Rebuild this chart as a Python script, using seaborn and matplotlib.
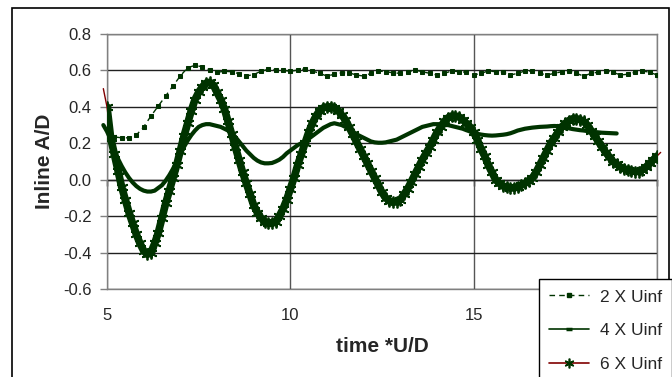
import numpy as np
import pandas as pd
import matplotlib
matplotlib.use("Agg")
import matplotlib.pyplot as plt
import seaborn as sns
from matplotlib.lines import Line2D
from matplotlib.patches import Rectangle

# ---------------- data ----------------
series_labels = ["2 X Uinf", "4 X Uinf", "6 X Uinf"]

# 2 X Uinf : samples every 0.2 from t = 5.0
t2_start, t2_step = 5.0, 0.2
a2 = [0.25, 0.235, 0.23, 0.23, 0.245, 0.29, 0.35, 0.405, 0.46, 0.515,
      0.57, 0.615, 0.628, 0.62, 0.603, 0.59, 0.595, 0.593, 0.582, 0.57,
      0.577, 0.596, 0.606, 0.604, 0.601, 0.595, 0.602, 0.608, 0.597, 0.584,
      0.569, 0.579, 0.587, 0.587, 0.575, 0.569, 0.584, 0.597, 0.593, 0.587,
      0.584, 0.59, 0.602, 0.593, 0.584, 0.575, 0.584, 0.597, 0.593, 0.59,
      0.575, 0.584, 0.597, 0.593, 0.59, 0.575, 0.584, 0.597, 0.597, 0.584,
      0.575, 0.584, 0.593, 0.597, 0.584, 0.569, 0.584, 0.59, 0.597, 0.59,
      0.575, 0.579, 0.59, 0.597, 0.59, 0.575]

# 4 X Uinf : samples every 0.1 from t = 4.9
t4_start, t4_step = 4.9, 0.1
a4 = [0.30, 0.265, 0.22, 0.165, 0.115, 0.075, 0.04, 0.01, -0.015, -0.035,
      -0.05, -0.06, -0.065, -0.065, -0.06, -0.045, -0.03, -0.005, 0.025, 0.06,
      0.10, 0.14, 0.18, 0.215, 0.245, 0.27, 0.29, 0.30, 0.305, 0.305,
      0.30, 0.295, 0.29, 0.28, 0.27, 0.255, 0.235, 0.21, 0.185, 0.16,
      0.14, 0.12, 0.105, 0.095, 0.09, 0.09, 0.092, 0.10, 0.11, 0.125,
      0.145, 0.16, 0.175, 0.19, 0.20, 0.21, 0.225, 0.24, 0.255, 0.27,
      0.285, 0.295, 0.305, 0.31, 0.305, 0.30, 0.29, 0.28, 0.265, 0.25,
      0.24, 0.23, 0.22, 0.21, 0.205, 0.203, 0.203, 0.205, 0.21, 0.215,
      0.22, 0.23, 0.24, 0.25, 0.26, 0.27, 0.28, 0.29, 0.295, 0.30,
      0.305, 0.305, 0.305, 0.30, 0.30, 0.295, 0.29, 0.285, 0.28, 0.272,
      0.265, 0.258, 0.252, 0.248, 0.245, 0.243, 0.242, 0.243, 0.245, 0.247,
      0.25, 0.255, 0.262, 0.27, 0.275, 0.28, 0.283, 0.286, 0.288, 0.29,
      0.291, 0.292, 0.294, 0.295, 0.294, 0.29, 0.286, 0.282, 0.278, 0.275,
      0.272, 0.27, 0.267, 0.264, 0.262, 0.26, 0.258, 0.257, 0.256, 0.255,
      0.254]

# 6 X Uinf : samples every 0.1 from t = 4.9
t6_start, t6_step = 4.9, 0.1
a6 = [0.50, 0.40, 0.23, 0.14, 0.05, -0.04, -0.11, -0.18, -0.24, -0.30,
      -0.35, -0.39, -0.41, -0.40, -0.35, -0.29, -0.21, -0.13, -0.06, 0.01,
      0.08, 0.16, 0.24, 0.31, 0.38, 0.44, 0.48, 0.51, 0.53, 0.535,
      0.52, 0.48, 0.44, 0.39, 0.32, 0.25, 0.18, 0.11, 0.04, -0.02,
      -0.08, -0.14, -0.18, -0.21, -0.23, -0.24, -0.24, -0.23, -0.20, -0.16,
      -0.11, -0.05, 0.01, 0.08, 0.14, 0.20, 0.26, 0.31, 0.35, 0.38,
      0.395, 0.40, 0.40, 0.395, 0.38, 0.355, 0.33, 0.29, 0.25, 0.21,
      0.17, 0.13, 0.09, 0.05, 0.01, -0.03, -0.07, -0.10, -0.115, -0.125,
      -0.12, -0.11, -0.08, -0.05, -0.01, 0.03, 0.07, 0.11, 0.145, 0.18,
      0.22, 0.26, 0.29, 0.32, 0.34, 0.35, 0.35, 0.345, 0.33, 0.31,
      0.29, 0.26, 0.22, 0.17, 0.13, 0.08, 0.04, 0.00, -0.02, -0.035,
      -0.04, -0.045, -0.045, -0.04, -0.03, -0.02, -0.005, 0.01, 0.04, 0.08,
      0.12, 0.16, 0.20, 0.23, 0.26, 0.29, 0.31, 0.325, 0.335, 0.335,
      0.33, 0.32, 0.30, 0.27, 0.24, 0.21, 0.18, 0.15, 0.125, 0.10,
      0.085, 0.07, 0.06, 0.055, 0.05, 0.045, 0.045, 0.055, 0.07, 0.09,
      0.11, 0.13, 0.15]

x_ticks = [5, 10, 15, 20]
x_tick_labels = ["5", "10", "15", ""]   # "20" is hidden under the legend
y_ticks = [-0.6, -0.4, -0.2, 0.0, 0.2, 0.4, 0.6, 0.8]
y_tick_labels = ["-0.6", "-0.4", "-0.2", "0.0", "0.2", "0.4", "0.6", "0.8"]
x_label = "time *U/D"
y_label = "Inline A/D"

t2 = np.round(t2_start + t2_step * np.arange(len(a2)), 2)
t4 = np.round(t4_start + t4_step * np.arange(len(a4)), 2)
t6 = np.round(t6_start + t6_step * np.arange(len(a6)), 2)

df2 = pd.DataFrame({"t": t2, "A": a2})
df4 = pd.DataFrame({"t": t4, "A": a4})
df6 = pd.DataFrame({"t": t6, "A": a6})
df6_in = df6[(df6.t >= 5.0 - 1e-9) & (df6.t <= 20.0 + 1e-9)]

# ---------------- style ----------------
sns.set_style("white")
plt.rcParams["font.family"] = ["Liberation Sans", "DejaVu Sans"]

GREEN = "#003300"
RED = "#800000"
AST = (6, 2, 0)

W, H = 672, 377
fig = plt.figure(figsize=(W / 100, H / 100), dpi=100)
ax = fig.add_axes([107 / W, 1 - 289 / H, 550 / W, 255 / H])

# 2 X Uinf
sns.lineplot(data=df2, x="t", y="A", ax=ax, estimator=None, sort=False,
             color=GREEN, linewidth=1.0, linestyle=(0, (4, 3)),
             marker="s", markersize=3.2, markeredgecolor=GREEN,
             markerfacecolor=GREEN, zorder=3)
# 4 X Uinf
sns.lineplot(data=df4, x="t", y="A", ax=ax, estimator=None, sort=False,
             color=GREEN, linewidth=3.0, zorder=3, clip_on=False)
# 6 X Uinf : thin red line, dense green asterisk markers
sns.lineplot(data=df6, x="t", y="A", ax=ax, estimator=None, sort=False,
             color=RED, linewidth=1.0, zorder=4, clip_on=False)
sns.lineplot(data=df6_in, x="t", y="A", ax=ax, estimator=None, sort=False,
             color=GREEN, linewidth=5.5, zorder=5)
sns.lineplot(data=df6_in, x="t", y="A", ax=ax, estimator=None, sort=False,
             color=GREEN, linestyle="none", marker=AST, markersize=8.5,
             markeredgewidth=1.3, markeredgecolor=GREEN, zorder=6)

ax.set_xlim(5, 20)
ax.set_ylim(-0.6, 0.8)
ax.set_xticks(x_ticks)
ax.set_xticklabels(x_tick_labels)
ax.set_yticks(y_ticks)
ax.set_yticklabels(y_tick_labels)

ax.set_axisbelow(True)
ax.yaxis.grid(True, color="#202020", linewidth=1.0)
ax.xaxis.grid(True, color="#555555", linewidth=1.0)

for s in ax.spines.values():
    s.set_color("#808080")
    s.set_linewidth(1.0)
    s.set_visible(True)

ax.tick_params(axis="y", direction="out", length=5, width=1, color="#808080",
               labelsize=12, pad=6, left=True)
ax.tick_params(axis="x", length=0, labelsize=12, pad=14)

# horizontal axis line crossing at zero with small ticks
sec = ax.secondary_xaxis(0.6 / 1.4)
sec.set_xticks(x_ticks)
sec.tick_params(direction="out", length=4, width=1, color="black",
                labelbottom=False, labeltop=False)
sec.spines["bottom"].set_color("black")
sec.spines["bottom"].set_linewidth(1.0)

ax.set_xlabel(x_label, fontsize=15, fontweight="bold")
ax.xaxis.set_label_coords(0.5, -0.19)
ax.set_ylabel(y_label, fontsize=15, fontweight="bold")
ax.yaxis.set_label_coords(-0.096, 0.5)

handles = [
    Line2D([], [], color=GREEN, linewidth=1.0, linestyle=(0, (4, 3)),
           marker="s", markersize=3.2, markeredgecolor=GREEN, markerfacecolor=GREEN),
    Line2D([], [], color=GREEN, linewidth=1.2, marker="_", markersize=5,
           markeredgewidth=2.5, markeredgecolor=GREEN),
    Line2D([], [], color=RED, linewidth=1.2, marker=AST, markersize=7,
           markeredgewidth=1.2, markeredgecolor=GREEN),
]
leg = fig.legend(handles, series_labels, loc="upper left",
                 bbox_to_anchor=(539 / W, 1 - 279 / H),
                 bbox_transform=fig.transFigure, frameon=True, fancybox=False,
                 edgecolor="black", facecolor="white", framealpha=1,
                 fontsize=12.5, handlelength=2.3, handletextpad=0.6,
                 labelspacing=1.08, borderpad=0.6, borderaxespad=0)
leg.get_frame().set_linewidth(1.0)

# outer chart border
fig.patches.append(Rectangle((12 / W, -0.05), (669 - 12) / W, 1 - 7.5 / H + 0.05,
                             transform=fig.transFigure, fill=False,
                             edgecolor="black", linewidth=1.2))

fig.savefig("out.png", dpi=100)
